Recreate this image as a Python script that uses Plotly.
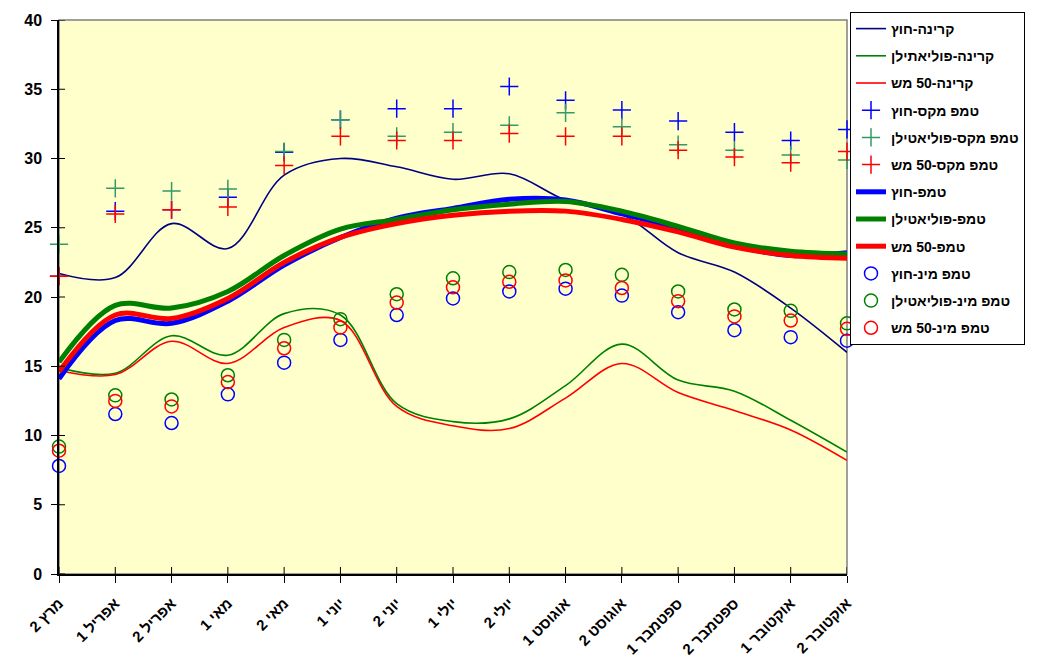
import plotly.graph_objects as go

# Half-month periods (category axis)
categories = ["מרץ 2", "אפריל 1", "אפריל 2", "מאי 1", "מאי 2", "יוני 1", "יוני 2",
              "יולי 1", "יולי 2", "אוגוסט 1", "אוגוסט 2", "ספטמבר 1", "ספטמבר 2",
              "אוקטובר 1", "אוקטובר 2"]

# Radiation (thin smoothed lines)
rad_out = [21.7, 21.4, 25.3, 23.5, 28.8, 30.0, 29.4, 28.5, 28.9, 27.0, 26.0, 23.2, 21.8, 19.2, 16.0]
rad_poly = [14.9, 14.5, 17.2, 15.8, 18.8, 18.7, 12.3, 11.0, 11.2, 13.6, 16.6, 14.0, 13.2, 11.1, 8.8]
rad_mesh = [14.7, 14.4, 16.8, 15.2, 17.8, 18.3, 12.1, 10.7, 10.5, 12.7, 15.2, 13.1, 11.8, 10.4, 8.2]

# Maximum temperature
max_out = [21.5, 26.2, 26.3, 27.2, 30.45, 32.8, 33.6, 33.6, 35.2, 34.2, 33.5, 32.7, 31.9, 31.3, 32.1]
max_poly = [23.8, 27.85, 27.65, 27.8, 30.5, 32.8, 31.6, 31.9, 32.4, 33.3, 32.3, 31.0, 30.6, 30.25, 29.9]
max_mesh = [21.5, 26.0, 26.3, 26.5, 29.5, 31.6, 31.3, 31.3, 31.8, 31.6, 31.6, 30.6, 30.1, 29.7, 30.5]

# Mean temperature (thick smoothed lines)
avg_out = [14.1, 18.3, 18.1, 19.7, 22.3, 24.3, 25.7, 26.4, 27.05, 27.0, 26.0, 24.95, 23.7, 23.0, 23.2]
avg_poly = [15.3, 19.4, 19.2, 20.4, 23.0, 24.9, 25.6, 26.3, 26.7, 26.9, 26.2, 25.1, 23.9, 23.3, 23.1]
avg_mesh = [14.6, 18.7, 18.45, 19.9, 22.5, 24.3, 25.3, 25.9, 26.2, 26.2, 25.6, 24.7, 23.6, 23.0, 22.8]

# Minimum temperature
min_out = [7.8, 11.55, 10.9, 12.97, 15.26, 16.9, 18.7, 19.9, 20.4, 20.6, 20.1, 18.9, 17.6, 17.1, 16.85]
min_poly = [9.2, 12.9, 12.6, 14.35, 16.9, 18.4, 20.2, 21.35, 21.8, 21.95, 21.6, 20.4, 19.1, 19.0, 18.1]
min_mesh = [8.9, 12.5, 12.1, 13.86, 16.3, 17.8, 19.6, 20.7, 21.1, 21.2, 20.65, 19.7, 18.6, 18.3, 17.7]

y_ticks = [0, 5, 10, 15, 20, 25, 30, 35, 40]

FONT = "Liberation Sans, Arial, DejaVu Sans, sans-serif"
BLUE, GREEN, RED, NAVY, SEA = "#0000FF", "#008000", "#FF0000", "#000080", "#339966"

fig = go.Figure()


def line(name, ys, color, width):
    fig.add_trace(go.Scatter(
        x=categories, y=ys, name="<b>%s</b>" % name, mode="lines", legendgroup=name,
        line=dict(color=color, width=width, shape="spline", smoothing=1.0),
        cliponaxis=False))


def marks(name, ys, color, symbol):
    fig.add_trace(go.Scatter(
        x=categories, y=ys, name="<b>%s</b>" % name, mode="markers", legendgroup=name,
        marker=dict(symbol=symbol, size=13, color=color,
                    line=dict(color=color, width=1.5)),
        cliponaxis=False))


line("קרינה-חוץ", rad_out, NAVY, 1.6)
line("קרינה-פוליאתילן", rad_poly, GREEN, 1.6)
line("קרינה-50 מש", rad_mesh, RED, 1.6)
marks("טמפ מקס-חוץ", max_out, BLUE, "cross-thin")
marks("טמפ מקס-פוליאטילן", max_poly, SEA, "cross-thin")
marks("טמפ מקס-50 מש", max_mesh, RED, "cross-thin")
line("טמפ-חוץ", avg_out, BLUE, 5)
line("טמפ-פוליאטילן", avg_poly, GREEN, 5)
line("טמפ-50 מש", avg_mesh, RED, 5)
marks("טמפ מינ-חוץ", min_out, BLUE, "circle-open")
marks("טמפ מינ-פוליאטילן", min_poly, GREEN, "circle-open")
marks("טמפ מינ-50 מש", min_mesh, RED, "circle-open")

# Inner halves of the crossing tick marks
shapes = []
for c in categories:
    shapes.append(dict(type="line", xref="x", yref="y", x0=c, x1=c,
                       ysizemode="pixel", yanchor=0, y0=0, y1=7,
                       line=dict(color="black", width=1), layer="above"))
for v in y_ticks:
    shapes.append(dict(type="line", xref="x", yref="y", y0=v, y1=v,
                       xsizemode="pixel", xanchor=0, x0=0, x1=6,
                       line=dict(color="black", width=1), layer="above"))
# Plot-area frame (top and right edges)
shapes.append(dict(type="rect", xref="paper", yref="paper", x0=0, x1=1, y0=0, y1=1,
                   line=dict(color="#808080", width=1.5), layer="below"))

fig.update_layout(
    width=1042, height=660,
    margin=dict(l=59, r=195, t=20, b=86, autoexpand=False),
    paper_bgcolor="white", plot_bgcolor="#FFFFCC",
    font=dict(family=FONT, color="black"),
    shapes=shapes,
    showlegend=True,
    legend=dict(
        x=(850 - 59) / 788, y=(574 - 12) / 554, xanchor="left", yanchor="top",
        bgcolor="white", bordercolor="black", borderwidth=1,
        font=dict(family=FONT, size=14, color="black", weight="bold"),
        tracegroupgap=6, maxheight=640,
    ),
    xaxis=dict(
        type="category", range=[0, len(categories) - 1],
        tickvals=categories, ticktext=["<b>%s</b>" % c for c in categories],
        showline=True, linecolor="black", linewidth=1.5,
        ticks="outside", ticklen=7, tickcolor="black", tickangle=-45,
        ticklabelstandoff=6,
        tickfont=dict(family=FONT, size=15, color="black", weight="bold"),
        showgrid=False, zeroline=False,
    ),
    yaxis=dict(
        range=[0, 40], tickvals=y_ticks, ticktext=["<b>%d</b>" % v for v in y_ticks],
        showline=True, linecolor="black", linewidth=1.5,
        ticks="outside", ticklen=6, tickcolor="black", ticklabelstandoff=6,
        tickfont=dict(family=FONT, size=16, color="black", weight="bold"),
        showgrid=False, zeroline=False,
    ),
)

fig.write_html("out.html")
